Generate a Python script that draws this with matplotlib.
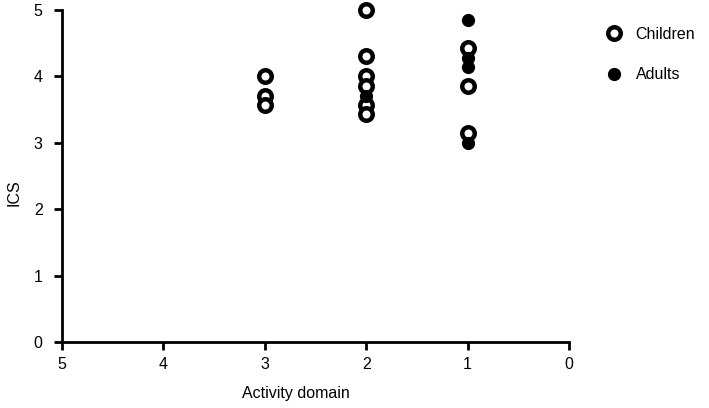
import matplotlib
matplotlib.use("Agg")
import matplotlib.pyplot as plt

plt.rcParams['font.family'] = ['Liberation Sans', 'DejaVu Sans']

# activity domain values (x) and ICS scores (y)
children_domain = [3, 3, 3, 2, 2, 2, 2, 2, 2, 1, 1, 1]
children_ics = [4.0, 3.71, 3.57, 5.0, 4.3, 4.0, 3.86, 3.57, 3.43, 4.43, 3.86, 3.14]
adults_domain = [2, 1, 1, 1, 1]
adults_ics = [3.71, 4.85, 4.28, 4.14, 3.0]

x_ticks = [5, 4, 3, 2, 1, 0]
y_ticks = [0, 1, 2, 3, 4, 5]

fig = plt.figure(figsize=(7.09, 4.08), dpi=100)
ax = fig.add_axes([0.0874, 0.1618, 0.7151, 0.8137])

ax.plot(children_domain, children_ics, 'o', ms=9, mfc='white', mec='black',
        mew=3.2, ls='none', clip_on=False, label='Children', zorder=3)
ax.plot(adults_domain, adults_ics, 'o', ms=8.5, mfc='black', mec='black',
        ls='none', clip_on=False, label='Adults', zorder=4)

ax.set_xlim(5, 0)
ax.set_ylim(0, 5)
ax.set_xticks(x_ticks)
ax.set_yticks(y_ticks)
ax.set_xlabel('Activity domain', fontsize=11.5)
ax.set_ylabel('ICS', fontsize=11.5)
ax.xaxis.set_label_coords(0.4615, -0.1325)
ax.yaxis.set_label_coords(-0.079, 0.449)

for side in ['top', 'right']:
    ax.spines[side].set_visible(False)
for side in ['left', 'bottom']:
    ax.spines[side].set_linewidth(2)
ax.tick_params(direction='out', length=6, width=2, labelsize=11.5)
ax.tick_params(axis='x', pad=5)
ax.tick_params(axis='y', pad=8)

fig.legend(loc='upper left', bbox_to_anchor=(0.829, 0.97), frameon=False,
           fontsize=11.5, labelspacing=1.6, handletextpad=0.6, handlelength=1.5)

fig.savefig('out.png', dpi=100)
